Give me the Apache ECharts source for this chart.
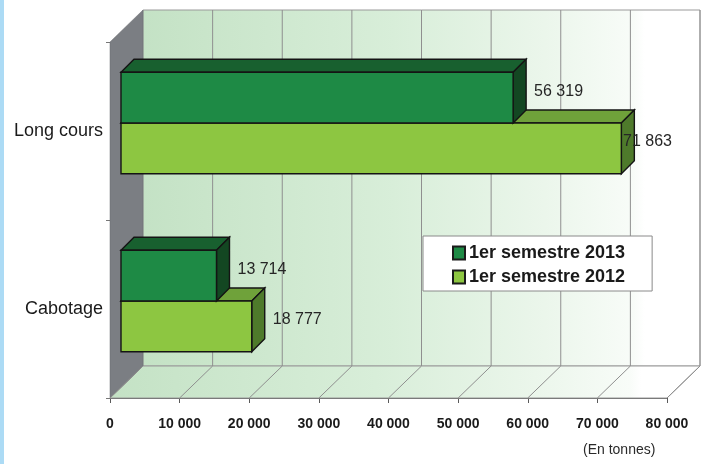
<!DOCTYPE html>
<html>
<head>
<meta charset="utf-8">
<script src="https://cdn.jsdelivr.net/npm/echarts@6/dist/echarts.min.js"></script>
<style>
html,body{margin:0;padding:0;background:#fff;}
#chart{width:705px;height:464px;}
</style>
</head>
<body>
<div id="chart"></div>
<script>
// ---- data ----
const categories = ['Long cours', 'Cabotage'];
const s2013 = [56319, 13714];
const s2012 = [71863, 18777];
const xTicks = [0, 10000, 20000, 30000, 40000, 50000, 60000, 70000, 80000];
const seriesNames = ['1er semestre 2013', '1er semestre 2012'];
const unitLabel = '(En tonnes)';

// ---- style constants ----
const FONT = "'Liberation Sans', Arial, sans-serif";
const DX = 33, DY = -32;          // depth of the 3D box
const FX = 11, FY = -8;           // bar front-face offset
const BX = 13, BY = -13;          // bar depth
const BAR_FRAC = 0.285;           // bar height as fraction of band

function fmt(v) { return String(v).replace(/\B(?=(\d{3})+(?!\d))/g, ' '); }

const chart = echarts.init(document.getElementById('chart'), null, {renderer: 'canvas'});

function wallGradient() {
  return new echarts.graphic.LinearGradient(0, 0, 1, 0, [
    {offset: 0, color: '#c4e2c5'},
    {offset: 0.45, color: '#d8eed9'},
    {offset: 0.72, color: '#ebf6eb'},
    {offset: 0.88, color: '#f8fcf8'},
    {offset: 0.9, color: '#ffffff'},
    {offset: 1, color: '#ffffff'}
  ]);
}

function renderWalls(params, api) {
  const cs = params.coordSys;
  const X0 = api.coord([xTicks[0], 0])[0];
  const X1 = api.coord([xTicks[xTicks.length - 1], 0])[0];
  const Yt = cs.y, Yb = cs.y + cs.height;
  return {
    type: 'group',
    children: [
      {type: 'rect', shape: {x: X0 + DX, y: Yt + DY, width: X1 - X0, height: Yb - Yt},
        style: {fill: wallGradient(), stroke: '#9a9a9a', lineWidth: 1}},
      {type: 'polygon', shape: {points: [[X0, Yb], [X0 + DX, Yb + DY], [X1 + DX, Yb + DY], [X1, Yb]]},
        style: {fill: wallGradient(), stroke: '#9a9a9a', lineWidth: 1}},
      {type: 'polygon', shape: {points: [[X0, Yt], [X0 + DX, Yt + DY], [X0 + DX, Yb + DY], [X0, Yb]]},
        style: {fill: '#7b7e83', stroke: '#6a6d70', lineWidth: 0.5}}
    ]
  };
}

function renderGridLine(params, api) {
  const cs = params.coordSys;
  const x = api.coord([api.value(0), 0])[0];
  const Yt = cs.y, Yb = cs.y + cs.height;
  const children = [
    {type: 'line', shape: {x1: x, y1: Yb, x2: x + DX, y2: Yb + DY},
      style: {stroke: '#8f8f8f', lineWidth: 1}}
  ];
  if (params.dataIndex > 0) {
    children.push({type: 'line', shape: {x1: x + DX, y1: Yt + DY, x2: x + DX, y2: Yb + DY},
      style: {stroke: '#8f8f8f', lineWidth: 1}});
  }
  return {type: 'group', children: children};
}

function makeBarRenderer(front, top, side, upper) {
  return function (params, api) {
    const cs = params.coordSys;
    const v = api.value(0), ci = api.value(1);
    const p0 = api.coord([0, ci]);
    const p1 = api.coord([v, ci]);
    const band = api.size([0, 1])[1];
    const h = band * BAR_FRAC;
    const x0 = p0[0] + FX, x1 = p1[0] + FX;
    const yc = p0[1] + FY;
    const yT = upper ? yc - h : yc;
    const yB = yT + h;
    const stroke = '#141414';
    const xEnd = cs.x + cs.width;
    const lx = Math.min(x1 + 21, xEnd - 44);
    return {
      type: 'group',
      children: [
        {type: 'polygon', shape: {points: [[x0, yT], [x0 + BX, yT + BY], [x1 + BX, yT + BY], [x1, yT]]},
          style: {fill: top, stroke: stroke, lineWidth: 1.4}},
        {type: 'polygon', shape: {points: [[x1, yT], [x1 + BX, yT + BY], [x1 + BX, yB + BY], [x1, yB]]},
          style: {fill: side, stroke: stroke, lineWidth: 1.4}},
        {type: 'rect', shape: {x: x0, y: yT, width: x1 - x0, height: h},
          style: {fill: front, stroke: stroke, lineWidth: 1.4}},
        {type: 'text', x: lx, y: (yT + BY + yB) / 2,
          style: {text: fmt(v), fill: '#262626', font: '16px ' + FONT, textAlign: 'left', textVerticalAlign: 'middle'}}
      ]
    };
  };
}

const option = {
  animation: false,
  backgroundColor: '#ffffff',
  grid: {left: 110, top: 42, width: 557, height: 356},
  xAxis: {
    type: 'value', min: 0, max: 80000, interval: 10000,
    splitLine: {show: false},
    axisLine: {show: true, lineStyle: {color: '#5a5a5a', width: 1}},
    axisTick: {show: true, length: 5, lineStyle: {color: '#5a5a5a'}},
    axisLabel: {formatter: fmt, color: '#1a1a1a', fontWeight: 'bold', fontSize: 14, fontFamily: FONT, margin: 19}
  },
  yAxis: {
    type: 'category', data: categories, inverse: true,
    axisLine: {show: false},
    axisTick: {show: true, length: 4, lineStyle: {color: '#777'}},
    axisLabel: {color: '#1a1a1a', fontSize: 18, fontFamily: FONT, margin: 7}
  },
  legend: {
    data: seriesNames,
    orient: 'vertical',
    left: 423, top: 236,
    backgroundColor: '#ffffff',
    borderColor: '#8a8a8a', borderWidth: 1,
    padding: [7, 27, 4, 29],
    itemWidth: 12, itemHeight: 13, itemGap: 4,
    icon: 'rect',
    selectedMode: false,
    textStyle: {fontSize: 18, fontWeight: 'bold', color: '#1a1a1a', fontFamily: FONT, lineHeight: 20, padding: [0, 0, 0, -1]}
  },
  graphic: [
    {type: 'rect', left: 0, top: 0, shape: {width: 4, height: 464}, style: {fill: '#acdbf5'}, silent: true},
    {type: 'text', left: 583, top: 443, style: {text: unitLabel, fill: '#2a2a2a', font: '14px ' + FONT}}
  ],
  series: [
    {type: 'custom', name: 'walls', z: 1, silent: true, renderItem: renderWalls, data: [[0]], encode: {x: 0}, clip: false},
    {type: 'custom', name: 'gridlines', z: 2, silent: true, renderItem: renderGridLine,
      data: xTicks.map(t => [t]), encode: {x: 0}, clip: false},
    {type: 'custom', name: seriesNames[1], z: 3, renderItem: makeBarRenderer('#8dc641', '#6fa23a', '#4e7a2b', false),
      itemStyle: {color: '#8dc641', borderColor: '#1b1b1b', borderWidth: 1},
      data: s2012.map((v, i) => [v, i]), encode: {x: 0, y: 1}, clip: false},
    {type: 'custom', name: seriesNames[0], z: 4, renderItem: makeBarRenderer('#1e8a45', '#18602f', '#134722', true),
      itemStyle: {color: '#1e8a45', borderColor: '#1b1b1b', borderWidth: 1},
      data: s2013.map((v, i) => [v, i]), encode: {x: 0, y: 1}, clip: false}
  ]
};
chart.setOption(option);
</script>
</body>
</html>
